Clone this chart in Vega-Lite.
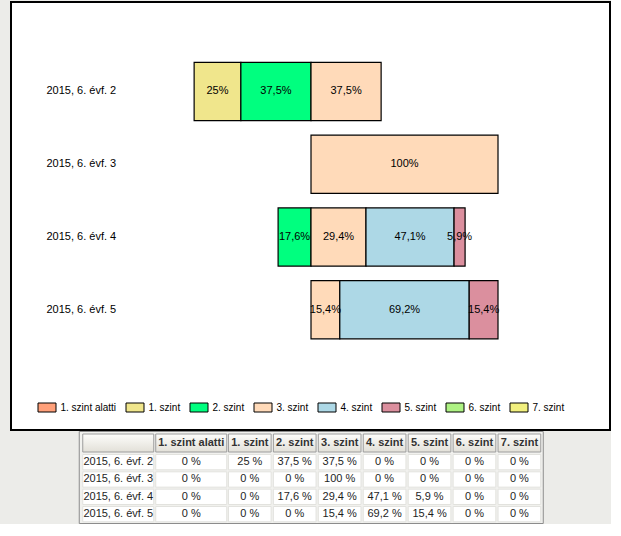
{
  "$schema": "https://vega.github.io/schema/vega-lite/v6.json",
  "background": "#ecece9",
  "padding": {"left": 10, "top": 1, "right": 0, "bottom": 0},
  "spacing": -1,
  "center": true,
  "config": {"font": "Liberation Sans"},
  "datasets": {
    "d": [
      {"cat": "2015, 6. évf. 2", "level": "1. szint alatti", "v": 0},
      {"cat": "2015, 6. évf. 2", "level": "1. szint", "v": 25},
      {"cat": "2015, 6. évf. 2", "level": "2. szint", "v": 37.5},
      {"cat": "2015, 6. évf. 2", "level": "3. szint", "v": 37.5},
      {"cat": "2015, 6. évf. 2", "level": "4. szint", "v": 0},
      {"cat": "2015, 6. évf. 2", "level": "5. szint", "v": 0},
      {"cat": "2015, 6. évf. 2", "level": "6. szint", "v": 0},
      {"cat": "2015, 6. évf. 2", "level": "7. szint", "v": 0},
      {"cat": "2015, 6. évf. 3", "level": "1. szint alatti", "v": 0},
      {"cat": "2015, 6. évf. 3", "level": "1. szint", "v": 0},
      {"cat": "2015, 6. évf. 3", "level": "2. szint", "v": 0},
      {"cat": "2015, 6. évf. 3", "level": "3. szint", "v": 100},
      {"cat": "2015, 6. évf. 3", "level": "4. szint", "v": 0},
      {"cat": "2015, 6. évf. 3", "level": "5. szint", "v": 0},
      {"cat": "2015, 6. évf. 3", "level": "6. szint", "v": 0},
      {"cat": "2015, 6. évf. 3", "level": "7. szint", "v": 0},
      {"cat": "2015, 6. évf. 4", "level": "1. szint alatti", "v": 0},
      {"cat": "2015, 6. évf. 4", "level": "1. szint", "v": 0},
      {"cat": "2015, 6. évf. 4", "level": "2. szint", "v": 17.6},
      {"cat": "2015, 6. évf. 4", "level": "3. szint", "v": 29.4},
      {"cat": "2015, 6. évf. 4", "level": "4. szint", "v": 47.1},
      {"cat": "2015, 6. évf. 4", "level": "5. szint", "v": 5.9},
      {"cat": "2015, 6. évf. 4", "level": "6. szint", "v": 0},
      {"cat": "2015, 6. évf. 4", "level": "7. szint", "v": 0},
      {"cat": "2015, 6. évf. 5", "level": "1. szint alatti", "v": 0},
      {"cat": "2015, 6. évf. 5", "level": "1. szint", "v": 0},
      {"cat": "2015, 6. évf. 5", "level": "2. szint", "v": 0},
      {"cat": "2015, 6. évf. 5", "level": "3. szint", "v": 15.4},
      {"cat": "2015, 6. évf. 5", "level": "4. szint", "v": 69.2},
      {"cat": "2015, 6. évf. 5", "level": "5. szint", "v": 15.4},
      {"cat": "2015, 6. évf. 5", "level": "6. szint", "v": 0},
      {"cat": "2015, 6. évf. 5", "level": "7. szint", "v": 0}
    ],
    "hdr": [
      {"level": "label"},
      {"level": "1. szint alatti"},
      {"level": "1. szint"},
      {"level": "2. szint"},
      {"level": "3. szint"},
      {"level": "4. szint"},
      {"level": "5. szint"},
      {"level": "6. szint"},
      {"level": "7. szint"}
    ]
  },
  "vconcat": [
    {
      "width": 599,
      "height": 428,
      "view": {"fill": "white", "stroke": "black", "strokeWidth": 2},
      "data": {"name": "d"},
      "transform": [{"filter": "datum.v > 0"}],
      "encoding": {
        "y": {
          "field": "cat", "type": "nominal",
          "scale": {"range": [53.1, 344.1], "paddingInner": 0.2, "paddingOuter": 0.1},
          "axis": {"title": null, "domain": false, "ticks": false, "labelAlign": "left", "labelPadding": -35, "labelFont": "Liberation Sans", "labelFontSize": 11, "labelColor": "black"}
        },
        "color": {
          "field": "level", "type": "nominal",
          "scale": {
            "domain": ["1. szint alatti", "1. szint", "2. szint", "3. szint", "4. szint", "5. szint", "6. szint", "7. szint"],
            "range": ["#FFA07A", "#F0E68C", "#00FF7F", "#FFDAB9", "#ADD8E6", "#DB8F9E", "#AEF283", "#F2F07E"]
          },
          "legend": {
            "orient": "none", "legendX": 26.5, "legendY": 396, "direction": "horizontal", "columns": 8,
            "title": null, "padding": 0,
            "symbolType": "M-1,-0.5H1V0.5H-1Z", "symbolSize": 324,
            "symbolStrokeColor": "black", "symbolStrokeWidth": 1, "symbolOpacity": 1,
            "labelFont": "Liberation Sans", "labelFontSize": 10, "labelColor": "black",
            "labelOffset": 4, "columnPadding": 7
          }
        }
      },
      "layer": [
        {
          "transform": [{"filter": {"field": "level", "oneOf": ["1. szint alatti", "1. szint", "2. szint"]}}],
          "layer": [
            {
              "mark": {"type": "bar", "stroke": "black", "strokeWidth": 1.2},
              "encoding": {
                "x": {"field": "v", "type": "quantitative", "stack": "zero", "scale": {"domain": [-159.89, 160.43], "reverse": true, "nice": false, "zero": false}, "axis": null},
                "order": {"field": "level", "sort": "descending"}
              }
            },
            {
              "mark": {"type": "text", "font": "Liberation Sans", "fontSize": 11, "text": {"expr": "replace(format(datum.v, '.1~f'), '.', ',') + '%'"}},
              "encoding": {
                "x": {"field": "v", "type": "quantitative", "stack": "zero", "bandPosition": 0.5, "scale": {"domain": [-159.89, 160.43], "reverse": true, "nice": false, "zero": false}, "axis": null},
                "order": {"field": "level", "sort": "descending"},
                "detail": {"field": "level"},
                "color": {"value": "black"}
              }
            }
          ]
        },
        {
          "transform": [{"filter": {"field": "level", "oneOf": ["3. szint", "4. szint", "5. szint", "6. szint", "7. szint"]}}],
          "layer": [
            {
              "mark": {"type": "bar", "stroke": "black", "strokeWidth": 1.2},
              "encoding": {
                "x": {"field": "v", "type": "quantitative", "stack": "zero", "scale": {"domain": [-160.43, 159.89], "nice": false, "zero": false}, "axis": null},
                "order": {"field": "level", "sort": "ascending"}
              }
            },
            {
              "mark": {"type": "text", "font": "Liberation Sans", "fontSize": 11, "text": {"expr": "replace(format(datum.v, '.1~f'), '.', ',') + '%'"}},
              "encoding": {
                "x": {"field": "v", "type": "quantitative", "stack": "zero", "bandPosition": 0.5, "scale": {"domain": [-160.43, 159.89], "nice": false, "zero": false}, "axis": null},
                "order": {"field": "level", "sort": "ascending"},
                "detail": {"field": "level"},
                "color": {"value": "black"}
              }
            }
          ]
        }
      ],
      "resolve": {"scale": {"x": "independent"}}
    },
    {
      "width": 464,
      "height": 92,
      "view": {"fill": "#f1f1ee", "stroke": "#8c8c8c", "strokeWidth": 1},
      "layer": [
        {
          "data": {"name": "hdr"},
          "transform": [{"filter": {"field": "level", "oneOf": ["label", "1. szint alatti"]}}],
          "encoding": {
            "x": {"field": "level", "type": "nominal", "scale": {"domain": ["label", "1. szint alatti"], "range": [4, 148], "paddingInner": 0.027, "paddingOuter": 0}, "axis": null},
            "y": {"datum": "h", "type": "nominal", "scale": {"range": [3, 21], "paddingInner": 0, "paddingOuter": 0}, "axis": null}
          },
          "layer": [
            {"mark": {"type": "rect", "stroke": "#9d9d9d", "strokeWidth": 1, "fill": {"gradient": "linear", "x1": 0, "y1": 0, "x2": 0, "y2": 1, "stops": [{"offset": 0, "color": "#fdfdfb"}, {"offset": 1, "color": "#e2e0d8"}]}}},
            {
              "transform": [{"filter": "datum.level != 'label'"}],
              "mark": {"type": "text", "font": "Liberation Sans", "fontSize": 11, "fontWeight": "bold", "fill": "#333333"},
              "encoding": {"text": {"field": "level"}}
            }
          ]
        },
        {
          "data": {"name": "hdr"},
          "transform": [{"filter": {"field": "level", "oneOf": ["1. szint", "2. szint", "3. szint", "4. szint", "5. szint", "6. szint", "7. szint"]}}],
          "encoding": {
            "x": {"field": "level", "type": "nominal", "scale": {"domain": ["1. szint", "2. szint", "3. szint", "4. szint", "5. szint", "6. szint", "7. szint"], "range": [149.7, 462], "paddingInner": 0.05, "paddingOuter": 0}, "axis": null},
            "y": {"datum": "h", "type": "nominal", "scale": {"range": [3, 21], "paddingInner": 0, "paddingOuter": 0}, "axis": null}
          },
          "layer": [
            {"mark": {"type": "rect", "stroke": "#9d9d9d", "strokeWidth": 1, "fill": {"gradient": "linear", "x1": 0, "y1": 0, "x2": 0, "y2": 1, "stops": [{"offset": 0, "color": "#fdfdfb"}, {"offset": 1, "color": "#e2e0d8"}]}}},
            {
              "mark": {"type": "text", "font": "Liberation Sans", "fontSize": 11, "fontWeight": "bold", "fill": "#333333"},
              "encoding": {"text": {"field": "level"}}
            }
          ]
        },
        {
          "data": {"name": "d"},
          "transform": [{"filter": {"field": "level", "equal": "1. szint alatti"}}],
          "encoding": {
            "y": {"field": "cat", "type": "nominal", "scale": {"range": [23.5, 90.8], "paddingInner": 0.116, "paddingOuter": 0}, "axis": null}
          },
          "layer": [
            {
              "mark": {"type": "rect", "fill": "white", "stroke": "#e2e2de", "strokeWidth": 1},
              "encoding": {"x": {"datum": "label", "type": "nominal", "scale": {"domain": ["label", "1. szint alatti"], "range": [4, 148], "paddingInner": 0.027, "paddingOuter": 0}, "axis": null}}
            },
            {
              "mark": {"type": "rect", "fill": "white", "stroke": "#e2e2de", "strokeWidth": 1},
              "encoding": {"x": {"field": "level", "type": "nominal", "scale": {"domain": ["label", "1. szint alatti"], "range": [4, 148], "paddingInner": 0.027, "paddingOuter": 0}, "axis": null}}
            },
            {
              "mark": {"type": "text", "font": "Liberation Sans", "fontSize": 11, "fill": "#1e1e1e"},
              "encoding": {
                "x": {"datum": "label", "type": "nominal", "scale": {"domain": ["label", "1. szint alatti"], "range": [4, 148], "paddingInner": 0.027, "paddingOuter": 0}, "axis": null},
                "text": {"field": "cat"}
              }
            },
            {
              "mark": {"type": "text", "font": "Liberation Sans", "fontSize": 11, "fill": "#1e1e1e", "text": {"expr": "replace(format(datum.v, '.1~f'), '.', ',') + ' %'"}},
              "encoding": {"x": {"field": "level", "type": "nominal", "scale": {"domain": ["label", "1. szint alatti"], "range": [4, 148], "paddingInner": 0.027, "paddingOuter": 0}, "axis": null}}
            }
          ]
        },
        {
          "data": {"name": "d"},
          "transform": [{"filter": {"field": "level", "oneOf": ["1. szint", "2. szint", "3. szint", "4. szint", "5. szint", "6. szint", "7. szint"]}}],
          "encoding": {
            "x": {"field": "level", "type": "nominal", "scale": {"domain": ["1. szint", "2. szint", "3. szint", "4. szint", "5. szint", "6. szint", "7. szint"], "range": [149.7, 462], "paddingInner": 0.05, "paddingOuter": 0}, "axis": null},
            "y": {"field": "cat", "type": "nominal", "scale": {"range": [23.5, 90.8], "paddingInner": 0.116, "paddingOuter": 0}, "axis": null}
          },
          "layer": [
            {"mark": {"type": "rect", "fill": "white", "stroke": "#e2e2de", "strokeWidth": 1}},
            {"mark": {"type": "text", "font": "Liberation Sans", "fontSize": 11, "fill": "#1e1e1e", "text": {"expr": "replace(format(datum.v, '.1~f'), '.', ',') + ' %'"}}}
          ]
        }
      ],
      "resolve": {"scale": {"x": "independent", "y": "independent"}}
    }
  ]
}
